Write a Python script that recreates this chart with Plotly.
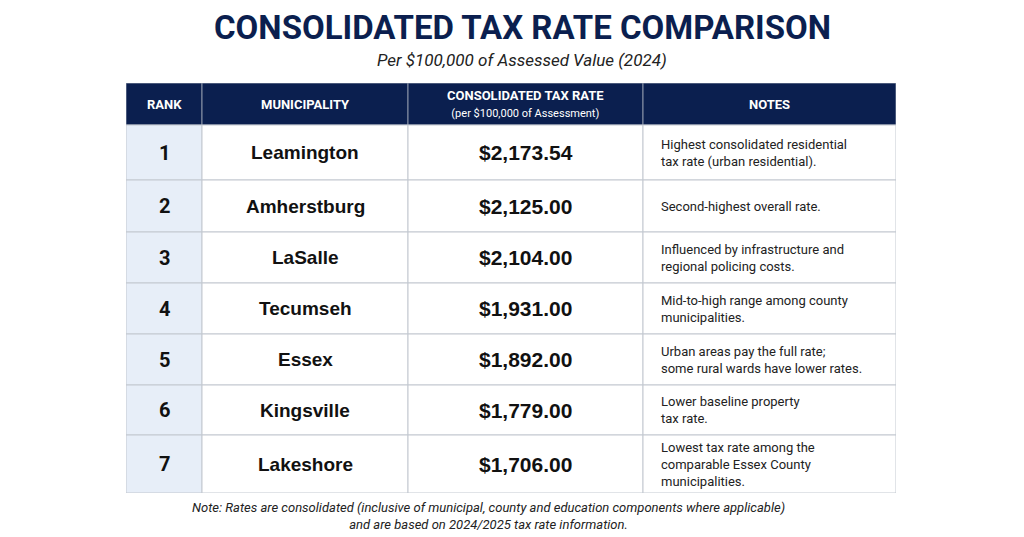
from plotly import graph_objects as go

# Data
ranks = ["1", "2", "3", "4", "5", "6", "7"]
municipalities = ["Leamington", "Amherstburg", "LaSalle", "Tecumseh", "Essex", "Kingsville", "Lakeshore"]
tax_rates = [2173.54, 2125.00, 2104.00, 1931.00, 1892.00, 1779.00, 1706.00]
notes = [
    "Highest consolidated residential<br>tax rate (urban residential).",
    "Second-highest overall rate.",
    "Influenced by infrastructure and<br>regional policing costs.",
    "Mid-to-high range among county<br>municipalities.",
    "Urban areas pay the full rate;<br>some rural wards have lower rates.",
    "Lower baseline property<br>tax rate.",
    "Lowest tax rate among the<br>comparable Essex County<br>municipalities.",
]
headers = ["RANK", "MUNICIPALITY",
           "CONSOLIDATED TAX RATE<br><span style='font-size:11px;font-weight:normal'>(per $100,000 of Assessment)</span>",
           "NOTES"]

# Layout (pixel units inside the table area)
NAVY = "#0b1f4f"
GRID = "#c3c8d0"
RANK_BG = "#e7eef8"
W, H = 1016, 529   # page adds an 8px body margin
OFF = 8
col_widths = [76, 206, 235, 253]
header_h = 42
row_heights = [55, 52, 51, 51, 51, 50, 58]

col_edges = [0]
for w in col_widths:
    col_edges.append(col_edges[-1] + w)
row_edges = [header_h]
for h in row_heights:
    row_edges.append(row_edges[-1] + h)
total_w, total_h = col_edges[-1], row_edges[-1]


def px(x):
    return (x - OFF) / W


def py(y):
    return 1 - (y - OFF) / H


shapes = []
annotations = []

# header
for i, text in enumerate(headers):
    x0, x1 = col_edges[i], col_edges[i + 1]
    shapes.append(dict(type="rect", xref="x", yref="y", x0=x0, x1=x1, y0=0, y1=header_h,
                       fillcolor=NAVY, line=dict(color="#8a94a8", width=1), layer="below"))
    annotations.append(dict(x=(x0 + x1) / 2, y=header_h / 2, xref="x", yref="y", text="<b>%s</b>" % text,
                            showarrow=False, font=dict(family="Roboto", size=13, color="white")))

# body
for r in range(len(ranks)):
    y0, y1 = row_edges[r], row_edges[r + 1]
    ym = (y0 + y1) / 2
    for c in range(4):
        shapes.append(dict(type="rect", xref="x", yref="y", x0=col_edges[c], x1=col_edges[c + 1], y0=y0, y1=y1,
                           fillcolor=RANK_BG if c == 0 else "white", line=dict(color=GRID, width=1), layer="below"))
    annotations.append(dict(x=(col_edges[0] + col_edges[1]) / 2, y=ym, xref="x", yref="y",
                            text="<b>%s</b>" % ranks[r], showarrow=False,
                            font=dict(family="Roboto", size=20, color="#111")))
    annotations.append(dict(x=(col_edges[1] + col_edges[2]) / 2, y=ym, xref="x", yref="y",
                            text="<b>%s</b>" % municipalities[r], showarrow=False,
                            font=dict(family="Liberation Sans", size=19, color="#111")))
    annotations.append(dict(x=(col_edges[2] + col_edges[3]) / 2, y=ym, xref="x", yref="y",
                            text="<b>${:,.2f}</b>".format(tax_rates[r]), showarrow=False,
                            font=dict(family="Liberation Sans", size=21, color="#111")))
    annotations.append(dict(x=col_edges[3] + 16, y=ym, xref="x", yref="y", xanchor="left", align="left",
                            text=notes[r], showarrow=False,
                            font=dict(family="Roboto", size=13, color="#222")))

# titles
annotations.append(dict(x=px(522), y=py(27), xref="paper", yref="paper", showarrow=False,
                        xanchor="center", yanchor="middle",
                        text="<b>CONSOLIDATED TAX RATE COMPARISON</b>",
                        font=dict(family="Roboto", size=33, color=NAVY, weight=900)))
annotations.append(dict(x=px(522), y=py(60), xref="paper", yref="paper", showarrow=False,
                        xanchor="center", yanchor="middle",
                        text="<i>Per $100,000 of Assessed Value (2024)</i>",
                        font=dict(family="Roboto", size=17, color="#222")))
annotations.append(dict(x=px(488), y=py(516), xref="paper", yref="paper", showarrow=False,
                        xanchor="center", yanchor="middle",
                        text="<i>Note: Rates are consolidated (inclusive of municipal, county and education components where applicable)<br>"
                             "and are based on 2024/2025 tax rate information.</i>",
                        font=dict(family="Roboto", size=13, color="#222")))

fig = go.Figure()
fig.update_layout(
    width=W, height=H,
    margin=dict(l=0, r=0, t=0, b=0),
    paper_bgcolor="white", plot_bgcolor="white",
    showlegend=False,
    shapes=shapes, annotations=annotations,
    xaxis=dict(domain=[px(126), px(896)], range=[0, total_w], visible=False, fixedrange=True),
    yaxis=dict(domain=[py(493), py(83)], range=[total_h, 0], visible=False, fixedrange=True),
)

fig.write_html("out.html")
